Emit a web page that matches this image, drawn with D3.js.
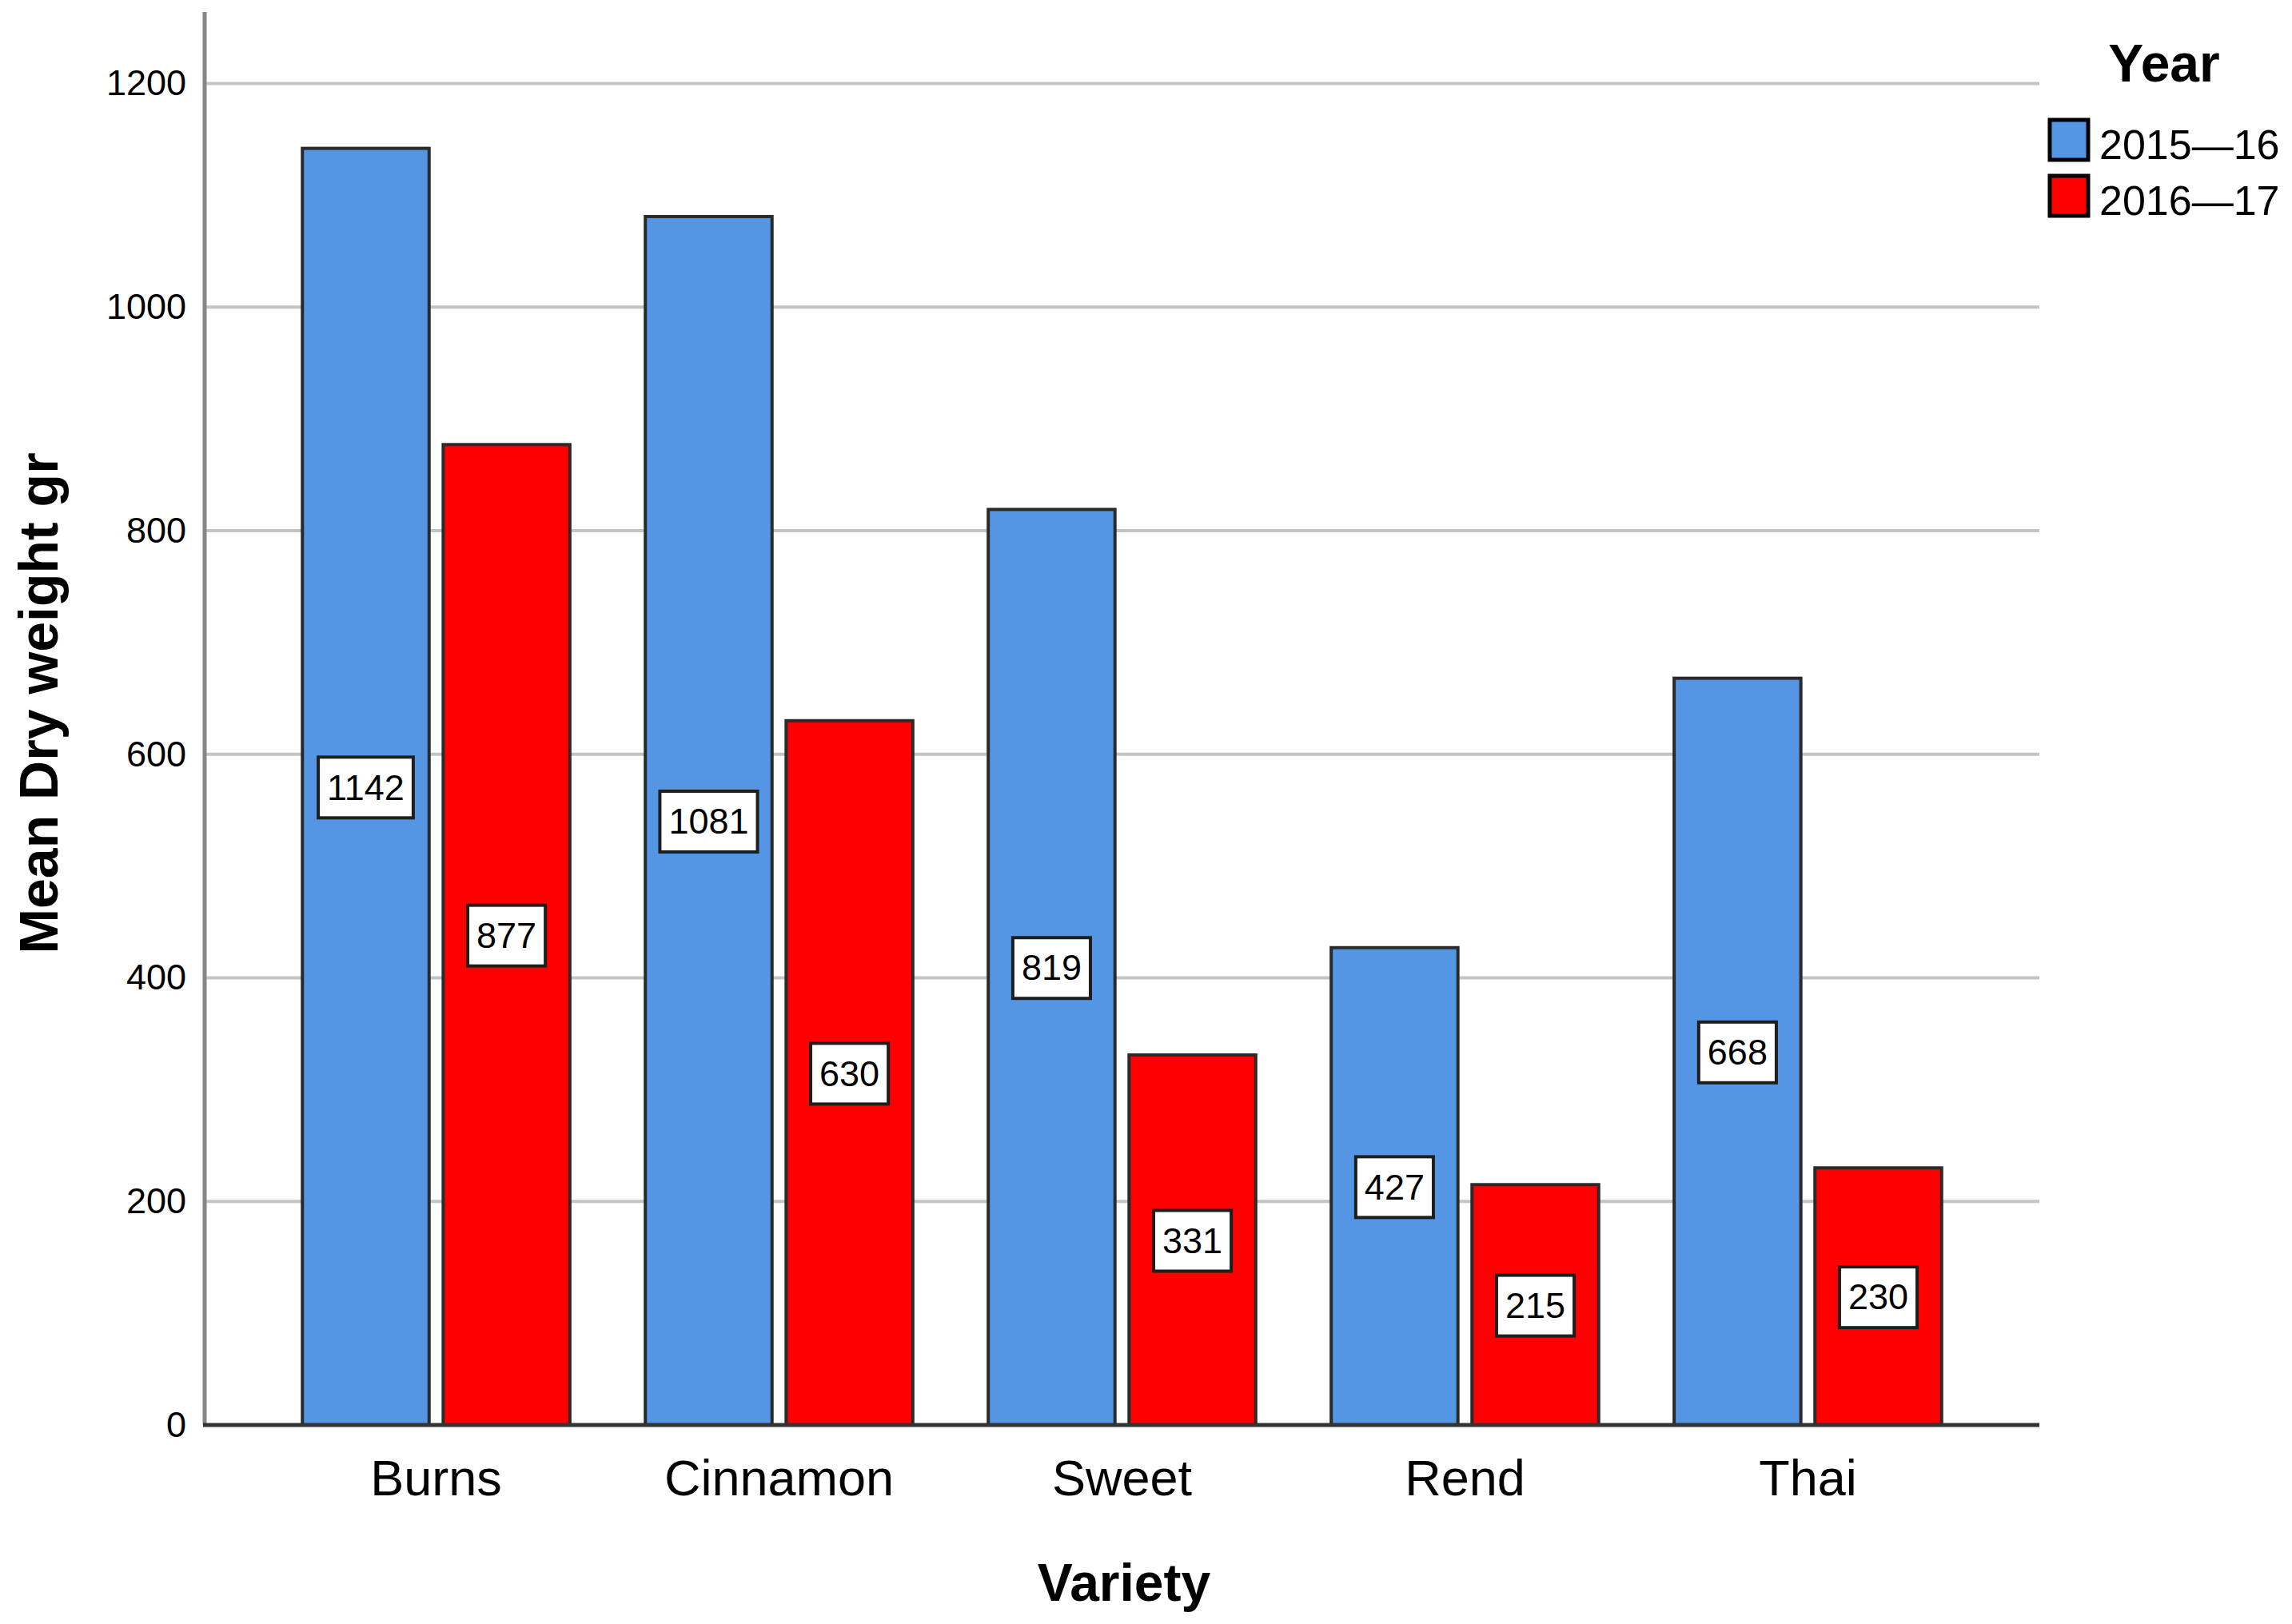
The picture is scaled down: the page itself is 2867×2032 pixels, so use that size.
<!DOCTYPE html>
<html>
  <head>
    <meta charset="utf-8">
    <title>Mean Dry weight by Variety</title>
    <style>
      body { margin: 0; background: #fff; }
      svg { display: block; }
      text { font-family: "Liberation Sans", Arial, sans-serif; fill: #000; }
    </style>
  </head>
  <body>
    <div id="chart"></div>
    <script src="https://d3js.org/d3.v7.min.js"></script>
    <script>

    // data
    var varieties = ['Burns', 'Cinnamon', 'Sweet', 'Rend', 'Thai']
    var years = ['2015\u201416', '2016\u201417']
    var values1516 = [1142, 1081, 819, 427, 668]
    var values1617 = [877, 630, 331, 215, 230]
    var yTicks = [0, 200, 400, 600, 800, 1000, 1200]
    var colors = ['#5596e4', '#ff0000']

    // note: "top" is a reserved window property, so plotTop etc.
    var width = 2867,
        height = 2032,
        plotLeft = 256, plotRight = 2551,
        plotTop = 15, plotBottom = 1783

    var svg = d3.select('#chart')
      .append('svg')
      .attr('width', width)
      .attr('height', height)

    var x0 = d3.scaleBand()
      .domain(varieties)
      .range([plotLeft, plotRight])
      .paddingInner(0.22)
      .paddingOuter(0.285)

    var x1 = d3.scaleBand()
      .domain(years)
      .range([0, x0.bandwidth()])
      .paddingInner(0.1)

    var y = d3.scaleLinear()
      .domain([0, 1264])
      .range([plotBottom, plotTop])

    var color = d3.scaleOrdinal().domain(years).range(colors)

    // gridlines
    svg.append('g')
      .selectAll('line')
      .data(yTicks.slice(1))
      .enter().append('line')
      .attr('x1', plotLeft).attr('x2', plotRight)
      .attr('y1', d => y(d)).attr('y2', d => y(d))
      .attr('stroke', '#c4c4c4')
      .attr('stroke-width', 4)

    // y axis, labels only
    var yAxis = svg.append('g')
      .attr('transform', 'translate(' + plotLeft + ',0)')
      .call(d3.axisLeft(y).tickValues(yTicks).tickFormat(d3.format('d')).tickSize(0).tickPadding(23))
    yAxis.select('.domain').remove()
    yAxis.selectAll('text')
      .style('font-size', '45px')
      .style('font-family', '"Liberation Sans", Arial, sans-serif')
      .attr('fill', '#000')

    svg.append('line')
      .attr('x1', plotLeft).attr('x2', plotLeft)
      .attr('y1', plotTop).attr('y2', plotBottom)
      .attr('stroke', '#858585')
      .attr('stroke-width', 5)

    // rows for bars
    var rows = []
    varieties.forEach(function(v, i) {
      rows.push({ variety: v, year: years[0], value: values1516[i] })
      rows.push({ variety: v, year: years[1], value: values1617[i] })
    })

    var bars = svg.append('g')
    bars.selectAll('rect')
      .data(rows)
      .enter().append('rect')
      .attr('x', d => x0(d.variety) + x1(d.year))
      .attr('y', d => y(d.value))
      .attr('width', x1.bandwidth())
      .attr('height', d => y(0) - y(d.value))
      .attr('fill', d => color(d.year))
      .attr('stroke', '#2a2a2a')
      .attr('stroke-width', 4)

    // x axis line
    svg.append('line')
      .attr('x1', plotLeft - 2).attr('x2', plotRight)
      .attr('y1', plotBottom).attr('y2', plotBottom)
      .attr('stroke', '#333')
      .attr('stroke-width', 5)

    // value labels in white boxes at bar middle
    var labels = svg.append('g').selectAll('g')
      .data(rows)
      .enter().append('g')
      .attr('transform', d => 'translate(' + (x0(d.variety) + x1(d.year) + x1.bandwidth() / 2) + ',' + y(d.value / 2) + ')')

    labels.append('rect').attr('class', 'box')
    labels.append('text')
      .attr('text-anchor', 'middle')
      .attr('dy', '0.36em')
      .style('font-size', '45px')
      .text(d => d.value)

    labels.each(function() {
      var g = d3.select(this)
      var w = g.select('text').node().getComputedTextLength() + 22
      g.select('rect')
        .attr('x', -w / 2).attr('y', -37)
        .attr('width', w).attr('height', 76)
        .attr('fill', '#fff')
        .attr('stroke', '#1e1e1e')
        .attr('stroke-width', 4)
    })

    // category labels
    svg.append('g').selectAll('text')
      .data(varieties)
      .enter().append('text')
      .attr('x', d => x0(d) + x0.bandwidth() / 2)
      .attr('y', 1871)
      .attr('text-anchor', 'middle')
      .style('font-size', '63px')
      .text(d => d)

    // axis titles
    svg.append('text')
      .attr('x', 1406).attr('y', 2003)
      .attr('text-anchor', 'middle')
      .style('font-size', '66px')
      .style('font-weight', 'bold')
      .text('Variety')

    svg.append('text')
      .attr('transform', 'translate(72,880) rotate(-90)')
      .attr('text-anchor', 'middle')
      .style('font-size', '68px')
      .style('font-weight', 'bold')
      .text('Mean Dry weight gr')

    // legend
    var legend = svg.append('g')
    legend.append('text')
      .attr('x', 2707).attr('y', 102)
      .attr('text-anchor', 'middle')
      .style('font-size', '66px')
      .style('font-weight', 'bold')
      .text('Year')

    var items = legend.selectAll('g')
      .data(years)
      .enter().append('g')
      .attr('transform', (d, i) => 'translate(2564,' + (150 + i * 70) + ')')
    items.append('rect')
      .attr('width', 48).attr('height', 50)
      .attr('fill', d => color(d))
      .attr('stroke', '#000')
      .attr('stroke-width', 5)
    items.append('text')
      .attr('x', 62).attr('y', 49)
      .style('font-size', '52px')
      .text(d => d)

    </script>
  </body>
</html>
